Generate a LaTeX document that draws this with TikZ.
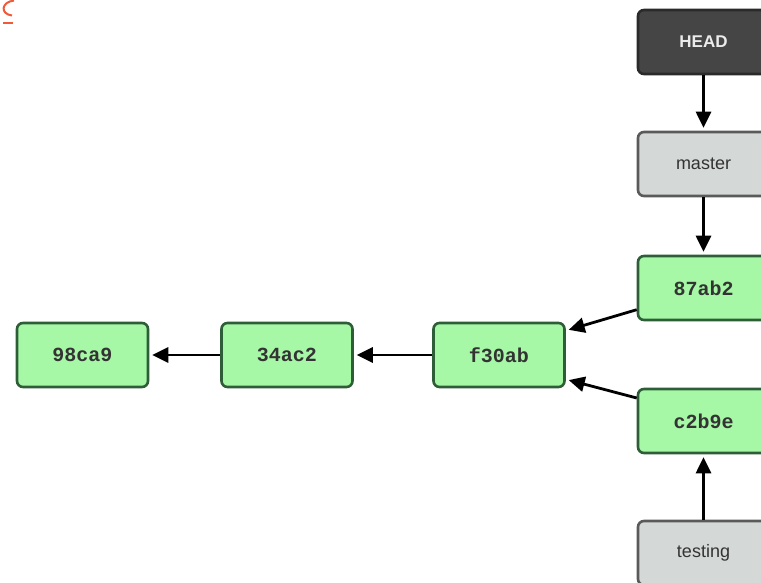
\documentclass[tikz,border=0pt]{standalone}
\usepackage{fontspec}
\setmainfont{Liberation Sans}
\newfontfamily\hashfont{Liberation Mono}
\usetikzlibrary{arrows.meta}
\definecolor{commitfill}{HTML}{A6F7A6}
\definecolor{commitline}{HTML}{2E5E38}
\definecolor{branchfill}{HTML}{D4D8D6}
\definecolor{branchline}{HTML}{5A5A5A}
\definecolor{headfill}{HTML}{454545}
\definecolor{headline}{HTML}{2A2A2A}
\definecolor{logo}{HTML}{F05A3A}

\begin{document}
\begin{tikzpicture}[x=1pt,y=-1pt,
commit/.style={draw=commitline, fill=commitfill, line width=2.6pt, rounded corners=6pt, minimum width=131pt, minimum height=64pt, text=black!80, font=\hashfont\bfseries\fontsize{20}{24}\selectfont},
branch/.style={draw=branchline, fill=branchfill, line width=2.6pt, rounded corners=6pt, minimum width=131pt, minimum height=64pt, text=black!80, font=\fontsize{18}{21}\selectfont},
head/.style={branch, draw=headline, fill=headfill, text=white!92!black, font=\bfseries\fontsize{17}{20}\selectfont},
ptr/.style={line width=2.8pt, -{Triangle[length=16pt,width=15pt]}, shorten >=3pt}]
\useasboundingbox (0,0) rectangle (761,583);
% cut-off logo at top left
\draw[logo, line width=2pt] (14,0.5) .. controls (1,2) and (0,14) .. (12,15.5);
\draw[logo, line width=2pt] (3,23.5) -- (13,23.5);
% commits
\foreach \n/\x in {98ca9/82.5,34ac2/287,f30ab/499} {
\node[commit] (\n) at (\x,355) {\n};
}
\node[commit] (87ab2) at (703.5,288) {87ab2};
\node[commit] (c2b9e) at (703.5,421) {c2b9e};
% branches
\node[head] (HEAD) at (703.5,42) {HEAD};
\node[branch] (master) at (703.5,164) {master};
\node[branch] (testing) at (703.5,553) {testing};
% pointers
\draw[ptr] (HEAD) -- (master);
\draw[ptr] (master) -- (87ab2);
\draw[ptr] (testing) -- (c2b9e);
\draw[ptr] (87ab2.198) -- (f30ab.20);
\draw[ptr] (c2b9e.161) -- (f30ab.340);
\foreach \i/\j in {f30ab/34ac2,34ac2/98ca9} {
\draw[ptr] (\i) -- (\j);
}
\end{tikzpicture}
\end{document}
